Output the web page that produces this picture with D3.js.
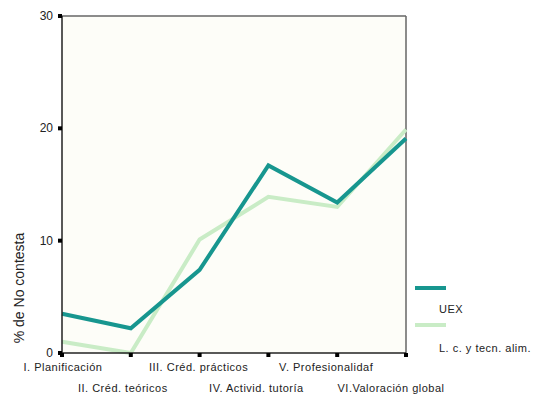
<!DOCTYPE html>
<html><head><meta charset="utf-8">
<script src="https://cdn.jsdelivr.net/npm/d3@7"></script>
<style>body{margin:0;background:#fff}svg text{font-family:Arial,"Liberation Sans",sans-serif}</style>
</head><body><svg id="c" width="549" height="398"></svg>
<script>
const categories=["I. Planificación","II. Créd. teóricos","III. Créd. prácticos","IV. Activid. tutoría","V. Profesionalidaf","VI.Valoración global"];
const uex=[3.5,2.2,7.4,16.7,13.4,19.1];
const lcta=[1.0,0.0,10.1,13.9,13.0,19.9];
const yTicks=[0,10,20,30];
const seriesNames=["UEX","L. c. y tecn. alim."];
const seriesColors=["#17968f","#c9ecc6"];

const svg=d3.select("#c");
const L=62,R=406,T=16,B=353;
const x=d3.scalePoint().domain(categories).range([L,R]);
const y=d3.scaleLinear().domain([0,30]).range([B,T]);

svg.append("rect").attr("x",L).attr("y",T).attr("width",R-L).attr("height",B-T).attr("fill","#fdfdf8");
svg.append("line").attr("x1",L).attr("x2",R).attr("y1",T).attr("y2",T).attr("stroke","#666").attr("stroke-width",1.5);
svg.append("line").attr("x1",R).attr("x2",R).attr("y1",T).attr("y2",B).attr("stroke","#666").attr("stroke-width",1.5);

const series=[uex,lcta];
const line=d3.line().x((d,i)=>x(categories[i])).y(d=>y(d));
[1,0].forEach(k=>{
  svg.append("path").attr("d",line(series[k])).attr("fill","none")
    .attr("stroke",seriesColors[k]).attr("stroke-width",4).attr("stroke-linejoin","miter");
});

svg.append("line").attr("x1",L).attr("x2",L).attr("y1",T).attr("y2",B).attr("stroke","#222").attr("stroke-width",1.5);
svg.append("line").attr("x1",L).attr("x2",R).attr("y1",B).attr("y2",B).attr("stroke","#222").attr("stroke-width",1.5);

yTicks.forEach(t=>{
  svg.append("rect").attr("x",L-4).attr("y",y(t)-2).attr("width",4).attr("height",4).attr("fill","#000");
  svg.append("text").attr("x",L-9).attr("y",y(t)+4).attr("text-anchor","end").attr("font-size",12).attr("fill","#222").text(t);
});
const dxs=[1,-8,-1,-12,-11,-15];
categories.forEach((c,i)=>{
  svg.append("rect").attr("x",x(c)-2).attr("y",B).attr("width",4).attr("height",4).attr("fill","#000");
  svg.append("text").attr("x",x(c)+dxs[i]).attr("y",i%2===0?371:392).attr("text-anchor","middle")
    .attr("font-size",11).attr("letter-spacing",0.5).attr("fill","#222").text(c);
});
svg.append("text").attr("transform","translate(24,288) rotate(-90)").attr("text-anchor","middle")
  .attr("font-size",14).attr("fill","#222").text("% de No contesta");

const ly=[288,325], ty=[313,352];
seriesNames.forEach((n,k)=>{
  svg.append("line").attr("x1",415).attr("x2",446).attr("y1",ly[k]).attr("y2",ly[k]).attr("stroke",seriesColors[k]).attr("stroke-width",4);
  svg.append("text").attr("x",439).attr("y",ty[k]).attr("font-size",11).attr("letter-spacing",0.5).attr("fill","#222").text(n);
});
</script></body></html>
